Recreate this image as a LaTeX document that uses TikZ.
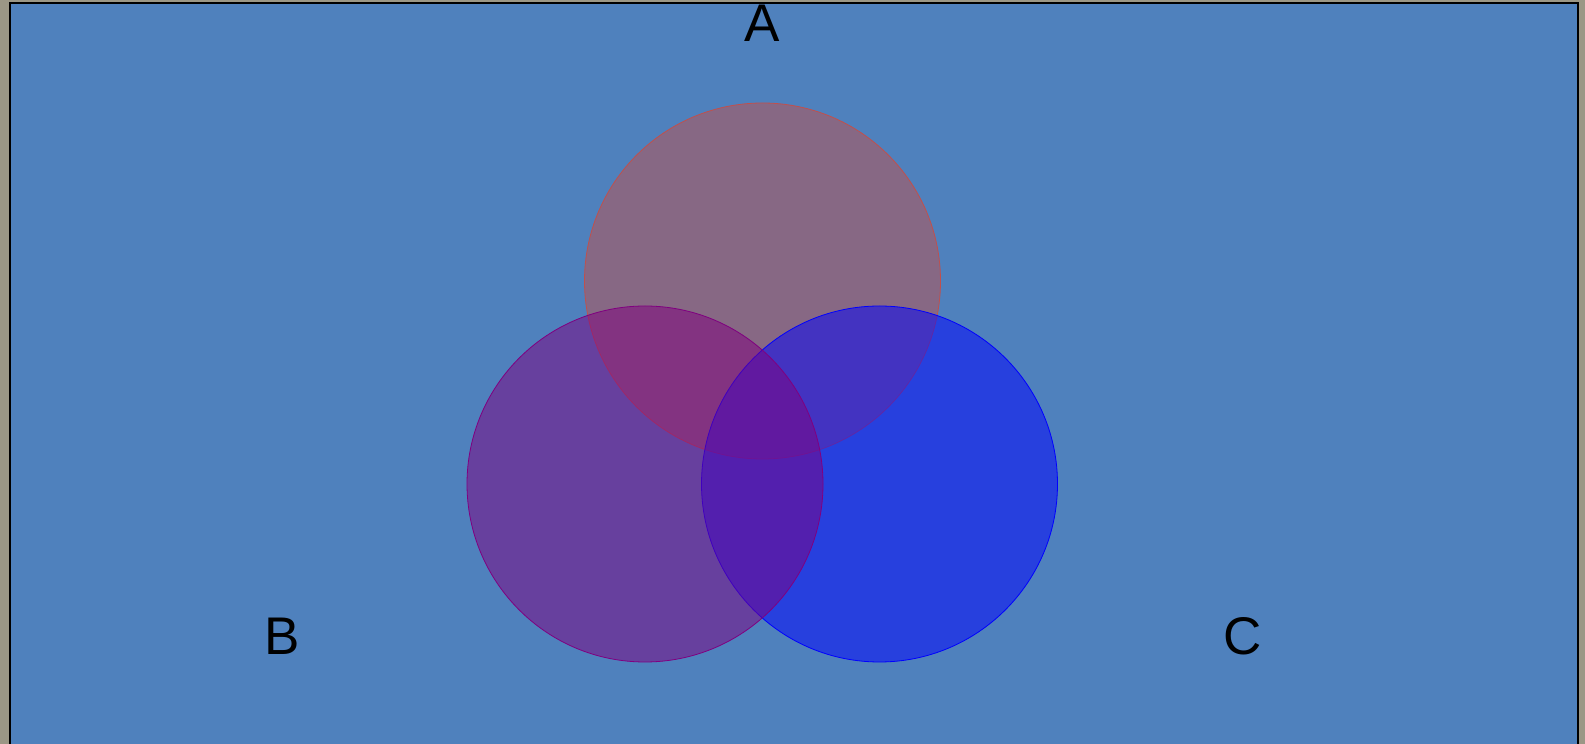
\documentclass[tikz,border=0pt]{standalone}
\usepackage{fontspec}
\setmainfont{Liberation Sans}
\definecolor{bgblue}{RGB}{79,129,189}
\definecolor{framegray}{RGB}{155,151,134}
\definecolor{setred}{RGB}{192,80,77}
\definecolor{setpurple}{RGB}{128,0,128}
\definecolor{setblue}{RGB}{0,0,255}
\begin{document}
\begin{tikzpicture}[x=1pt,y=1pt,
  setcircle/.style={circle,minimum size=356pt,inner sep=0pt,line width=0.8pt,fill opacity=0.5},
  setlabel/.style={font=\fontsize{53}{60}\selectfont,text=black,anchor=base,inner sep=0pt}]
\useasboundingbox (0,0) rectangle (1585,744);
\clip (0,0) rectangle (1585,744);
\fill[framegray] (0,0) rectangle (1585,744);
\draw[fill=bgblue,draw=black,line width=2pt] (10,-10) rectangle (1578,741);
\node[setcircle,draw=setred,fill=setred] (A) at (762.5,463) {};
\node[setcircle,draw=setblue,fill=setblue] (C) at (879.5,260) {};
\node[setcircle,draw=setpurple,fill=setpurple] (B) at (645,260) {};
\node[setlabel] (la) at (762,702) {A};
\node[setlabel] (lb) at (282,89) {B};
\node[setlabel] (lc) at (1243,89) {C};
\end{tikzpicture}
\end{document}
